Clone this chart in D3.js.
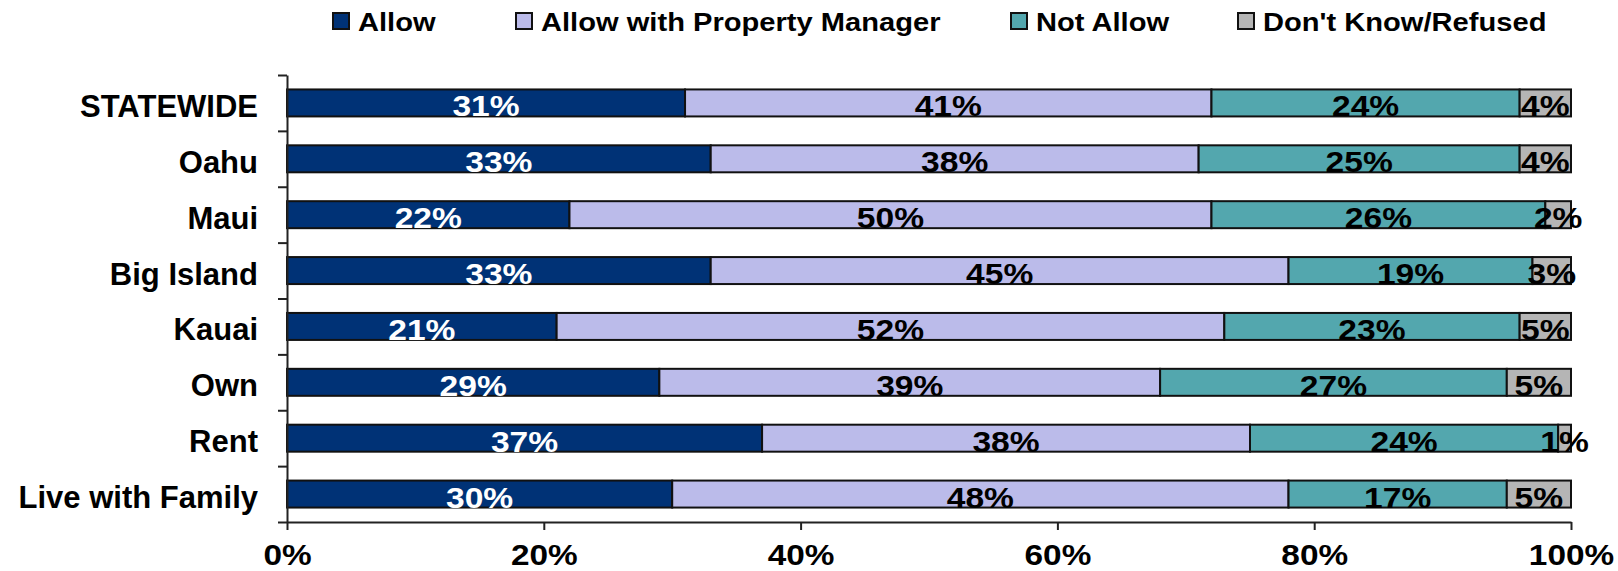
<!DOCTYPE html>
<html>
<head>
<meta charset="utf-8">
<script src="https://cdn.jsdelivr.net/npm/d3@7"></script>
<style>
  html, body { margin: 0; padding: 0; background: #ffffff; }
  svg { display: block; }
  text { font-family: "Liberation Sans", Arial, sans-serif; font-weight: bold; }
</style>
</head>
<body>
<svg id="chart" width="1618" height="571"></svg>
<script>
const categories = ["STATEWIDE", "Oahu", "Maui", "Big Island", "Kauai", "Own", "Rent", "Live with Family"];
const seriesNames = ["Allow", "Allow with Property Manager", "Not Allow", "Don't Know/Refused"];
const allow        = [31, 33, 22, 33, 21, 29, 37, 30];
const allowWithPM  = [41, 38, 50, 45, 52, 39, 38, 48];
const notAllow     = [24, 25, 26, 19, 23, 27, 24, 17];
const dontKnow     = [4, 4, 2, 3, 5, 5, 1, 5];
const xTicks = [0, 20, 40, 60, 80, 100];
const colors = ["#003276", "#BBBBEA", "#53A7AE", "#B5B5B5"];
const labelColors = ["#ffffff", "#000000", "#000000", "#000000"];

const seriesValues = [allow, allowWithPM, notAllow, dontKnow];
const rows = categories.map((c, i) => {
  const r = { category: c };
  seriesNames.forEach((s, j) => r[s] = seriesValues[j][i]);
  return r;
});

const svg = d3.select("#chart");
const margin = { left: 287, right: 47, top: 75, bottom: 49 };
const W = 1618, H = 571;
const plotW = W - margin.left - margin.right;
const plotH = H - margin.top - margin.bottom;

const x = d3.scaleLinear().domain([0, 100]).range([margin.left, margin.left + plotW]).clamp(true);
const pad = 0.517;
const y = d3.scaleBand().domain(categories).range([margin.top, margin.top + plotH])
  .paddingInner(pad).paddingOuter(pad / 2);
const yBound = d3.scaleLinear().domain([0, categories.length]).range([margin.top, margin.top + plotH]);

const stacked = d3.stack().keys(seriesNames)(rows);

// bars
const groups = svg.append("g").selectAll("g").data(stacked).join("g")
  .attr("fill", (d, i) => colors[i]);
groups.selectAll("rect").data(d => d).join("rect")
  .attr("x", d => x(d[0]))
  .attr("width", d => x(d[1]) - x(d[0]))
  .attr("y", d => y(d.data.category))
  .attr("height", y.bandwidth())
  .attr("stroke", "#111")
  .attr("stroke-width", 2);

// bar labels
const lbl = svg.append("g");
stacked.forEach((s, i) => {
  lbl.selectAll(null).data(s).join("text")
    .attr("transform", d => `translate(${(x(d[0]) + x(d[1])) / 2},${y(d.data.category) + y.bandwidth()}) scale(1.12,1)`)
    .attr("text-anchor", "middle")
    .attr("font-size", 30)
    .attr("fill", labelColors[i])
    .text(d => d.data[s.key] + "%");
});

// x axis
const xAxis = svg.append("g")
  .attr("transform", `translate(0,${margin.top + plotH})`)
  .call(d3.axisBottom(x).tickValues(xTicks).tickSize(8).tickSizeOuter(0).tickFormat(d => d + "%"));
xAxis.select(".domain").attr("stroke", "#222").attr("stroke-width", 2);
xAxis.selectAll(".tick line").attr("stroke", "#222").attr("stroke-width", 2);
xAxis.selectAll(".tick text").attr("font-size", 29).attr("fill", "#000")
  .attr("y", null).attr("dy", null)
  .attr("transform", "translate(0,42.5) scale(1.15,1)");

// y axis (ticks at category boundaries)
const yAxis = svg.append("g")
  .attr("transform", `translate(${margin.left},0)`)
  .call(d3.axisLeft(yBound).tickValues(d3.range(categories.length + 1)).tickSize(9).tickSizeOuter(0).tickFormat(""));
yAxis.select(".domain").attr("stroke", "#222").attr("stroke-width", 2);
yAxis.selectAll(".tick line").attr("stroke", "#222").attr("stroke-width", 2);

// category labels
svg.append("g").selectAll("text").data(categories).join("text")
  .attr("x", 258)
  .attr("y", d => y(d) + y.bandwidth() / 2 + 14)
  .attr("text-anchor", "end")
  .attr("font-size", 31)
  .attr("fill", "#000")
  .text(d => d);

// legend
const legendX = [333, 516, 1011, 1238];
const leg = svg.append("g");
seriesNames.forEach((s, i) => {
  leg.append("rect")
    .attr("x", legendX[i]).attr("y", 13)
    .attr("width", 16).attr("height", 16)
    .attr("fill", colors[i]).attr("stroke", "#111").attr("stroke-width", 2);
  leg.append("text")
    .attr("transform", `translate(${legendX[i] + 25},31) scale(1.12,1)`)
    .attr("font-size", 26)
    .attr("fill", "#000")
    .text(s);
});
</script>
</body>
</html>
